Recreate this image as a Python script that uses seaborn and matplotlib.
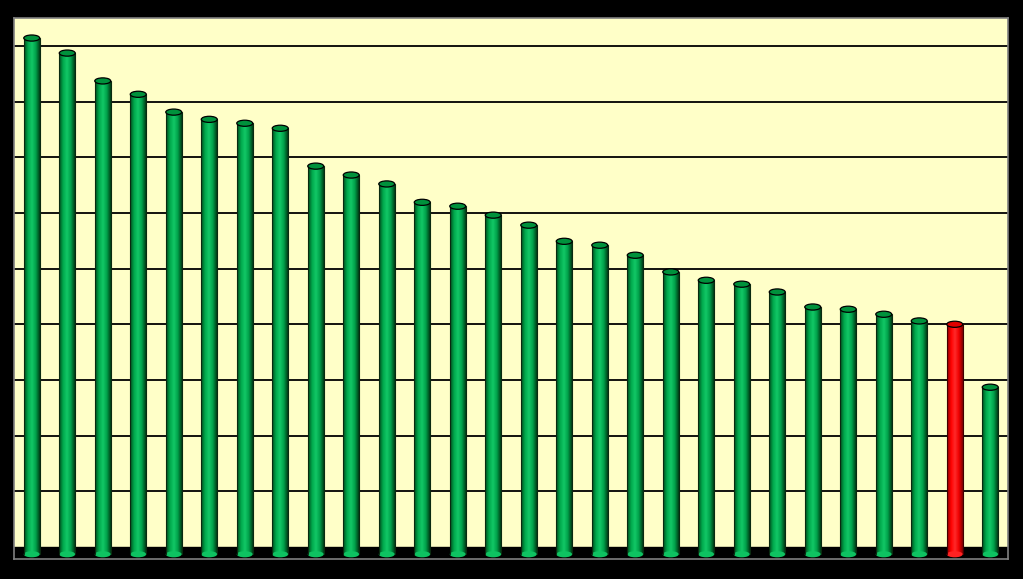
import numpy as np
import pandas as pd
import matplotlib.pyplot as plt
import seaborn as sns
from matplotlib.colors import LinearSegmentedColormap, to_rgb
from matplotlib.patches import Ellipse

# Valeurs (unité = un intervalle de grille)
categories = [f"C{i:02d}" for i in range(1, 29)]
values = [9.14, 8.87, 8.37, 8.13, 7.81, 7.68, 7.61, 7.52, 6.84, 6.68,
          6.52, 6.19, 6.12, 5.96, 5.78, 5.49, 5.42, 5.24, 4.94, 4.79,
          4.72, 4.58, 4.31, 4.27, 4.18, 4.06, 4.00, 2.87]
highlight = "C27"

df = pd.DataFrame({"cat": categories, "val": values})
df["grp"] = np.where(df["cat"] == highlight, "red", "green")
palette = {"green": "#00a84c", "red": "#ff0000"}

sns.set_style("white")
fig = plt.figure(figsize=(10.23, 5.79), dpi=100, facecolor="black")
ax = fig.add_axes([14 / 1023, (579 - 559) / 579, 994 / 1023, (559 - 18) / 579])
ax.set_facecolor("#ffffc8")

sns.barplot(data=df, x="cat", y="val", hue="grp", palette=palette, saturation=1,
            width=0.45, legend=False, ax=ax, zorder=3, edgecolor="none")

cmaps = {
    "green": LinearSegmentedColormap.from_list("g", ["#004a1c", "#00a84c", "#12c866", "#00a04a", "#003d16"]),
    "red": LinearSegmentedColormap.from_list("r", ["#8c0000", "#ff0000", "#ff2a2a", "#f00000", "#800000"]),
}
caps = {"green": "#00913c", "red": "#e00000"}
edges = {"green": "#0a2a10", "red": "#400000"}
grad = np.linspace(0, 1, 64).reshape(1, -1)
drop = 0.13
cap_h = 0.11

bars = [p for c in ax.containers for p in c]
for patch in bars:
    if patch.get_height() <= 0:
        continue
    x0, w, top = patch.get_x(), patch.get_width(), patch.get_y() + patch.get_height()
    col = "red" if np.allclose(patch.get_facecolor()[:3], to_rgb(palette["red"])) else "green"
    patch.set_y(-drop)
    patch.set_height(top + drop)
    im = ax.imshow(grad, cmap=cmaps[col], extent=[x0, x0 + w, -drop, top], aspect="auto", zorder=3)
    im.set_clip_path(patch)
    # fond arrondi
    ax.add_patch(Ellipse((x0 + w / 2, -drop), w, cap_h, facecolor=cmaps[col](0.45), edgecolor="none", zorder=3))
    # contour
    ax.plot([x0, x0], [-drop, top], color=edges[col], lw=0.8, zorder=4)
    ax.plot([x0 + w, x0 + w], [-drop, top], color=edges[col], lw=0.8, zorder=4)
    # couvercle
    ax.add_patch(Ellipse((x0 + w / 2, top), w, cap_h, facecolor=caps[col], edgecolor="black", lw=0.9, zorder=5))

ymin, ymax = -0.215, 9.5
ax.axhspan(ymin, 0, color="black", zorder=1)
for g in range(1, 10):
    ax.axhline(g, color="black", lw=1.3, zorder=1)

ax.set_xlim(-0.5, len(categories) - 0.5)
ax.set_ylim(ymin, ymax)
ax.set_xticks([])
ax.set_yticks([])
ax.set_xlabel("")
ax.set_ylabel("")
for s in ax.spines.values():
    s.set_color("#808080")
    s.set_linewidth(1.2)

fig.savefig("out.png", dpi=100, facecolor="black")
